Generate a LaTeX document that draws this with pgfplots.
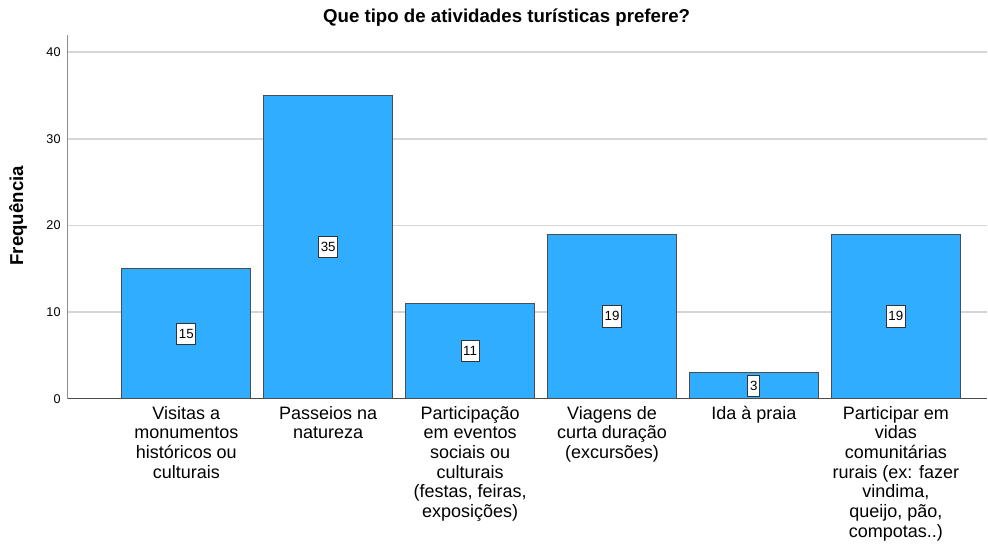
\documentclass[border=0pt]{standalone}
\usepackage{fontspec}
\setmainfont{Liberation Sans}
\usepackage{pgfplots}
\pgfplotsset{compat=1.18}
\usetikzlibrary{calc}

\definecolor{barblue}{HTML}{31ADFF}
\definecolor{baredge}{HTML}{4D4D4D}
\definecolor{gridgray}{HTML}{D6D6D6}

\begin{document}
\begin{tikzpicture}
\begin{axis}[
  name=ax,
  scale only axis,
  width=690pt, height=273pt,
  xmin=-0.834, xmax=5.644,
  ymin=0, ymax=42,
  axis x line*=bottom,
  axis y line*=left,
  x axis line style={color=black!70, line width=0.8pt, -},
  y axis line style={color=black!45, line width=0.8pt, -},
  ymajorgrids,
  grid style={color=gridgray, line width=1.2pt},
  ytick={0,10,20,30,40},
  xtick={0,1,2,3,4,5},
  major tick length=0pt,
  xticklabels={
    {Visitas a\\monumentos\\históricos ou\\culturais},
    {Passeios na\\natureza},
    {Participação\\em eventos\\sociais ou\\culturais\\(festas, feiras,\\exposições)},
    {Viagens de\\curta duração\\(excursões)},
    {Ida à praia},
    {Participar em\\vidas\\comunitárias\\rurais (ex: fazer\\vindima,\\queijo, pão,\\compotas..)}
  },
  xticklabel style={align=center, font=\fontsize{13.5}{14.8}\selectfont, anchor=north, yshift=-2pt},
  yticklabel style={font=\fontsize{9.5}{11}\selectfont, xshift=-2pt},
  /pgf/number format/assume math mode=true,
  clip=false,
]
\addplot[ybar, bar width=0.908, fill=barblue, draw=baredge, line width=0.6pt]
  coordinates {(0,15) (1,35) (2,11) (3,19) (4,3) (5,19)};
% value boxes at half bar height
\addplot[draw=none, mark=none, nodes near coords, point meta=explicit symbolic,
  every node near coord/.append style={anchor=center, fill=white, draw=black!80,
    line width=0.7pt, inner sep=1.5pt, minimum height=16pt, minimum width=9pt,
    font=\fontsize{10}{11}\selectfont}]
  coordinates {(0,7.5)[15] (1,17.5)[35] (2,5.5)[11] (3,9.5)[19] (4,1.5)[3] (5,9.5)[19]};
\end{axis}
\node[font=\bfseries\fontsize{14}{16}\selectfont] at ($(ax.south west)+(329.25pt,285.75pt)$)
  {Que tipo de atividades turísticas prefere?};
\node[font=\bfseries\fontsize{14}{16}\selectfont, rotate=90] at ($(ax.south west)+(-37.5pt,137.25pt)$)
  {Frequência};
\path[use as bounding box] ($(ax.south west)+(-51pt,-110.25pt)$) rectangle ($(ax.south west)+(690pt,299.25pt)$);
\end{tikzpicture}
\end{document}
